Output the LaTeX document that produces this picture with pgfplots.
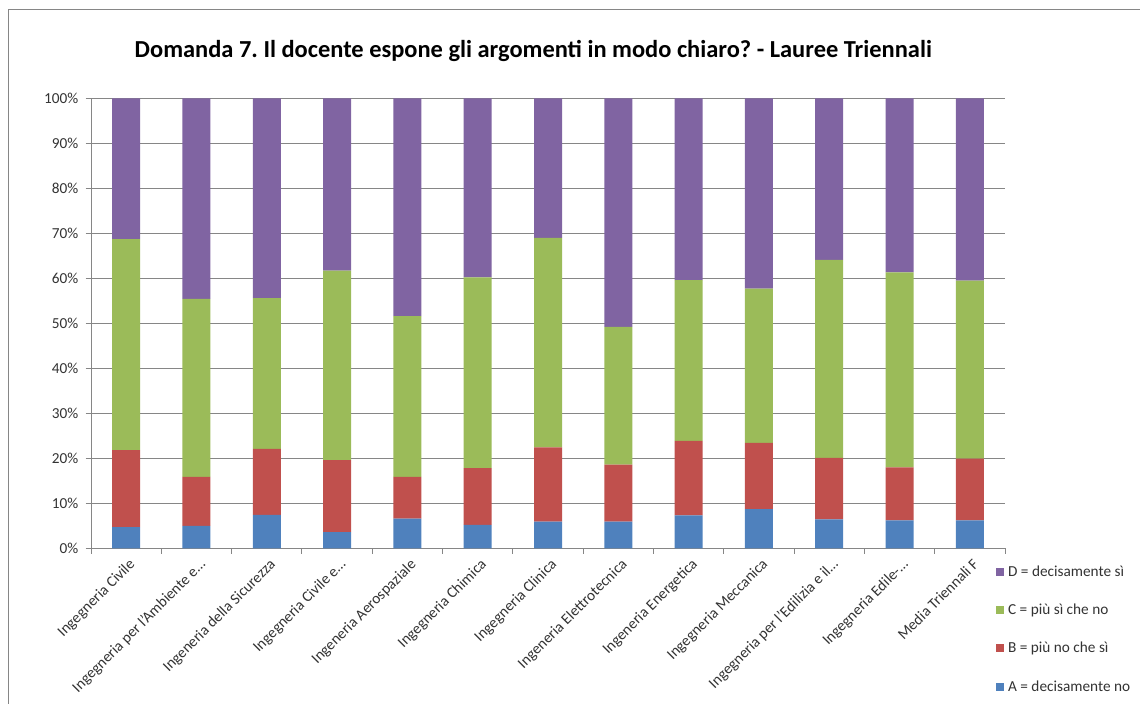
\documentclass[border=0pt]{standalone}
\usepackage{pgfplots}
\usepackage{pgfplotstable}
\pgfplotsset{compat=1.18}
\usepackage{fontspec}
\setmainfont{Carlito}
\frenchspacing

\definecolor{serA}{HTML}{4F81BD}
\definecolor{serB}{HTML}{C0504D}
\definecolor{serC}{HTML}{9BBB59}
\definecolor{serD}{HTML}{8064A2}
\definecolor{gridgray}{HTML}{868686}

% percentages per corso di laurea: A B C D
\pgfplotstableread{
idx A    B     C     D
0   4.7  17.1  46.9  31.3
1   5.0  10.85 39.55 44.6
2   7.4  14.7  33.5  44.4
3   3.6  16.0  42.1  38.3
4   6.6  9.25  35.75 48.4
5   5.2  12.6  42.4  39.8
6   5.9  16.5  46.6  31.0
7   5.9  12.7  30.6  50.8
8   7.3  16.55 35.75 40.4
9   8.7  14.7  34.3  42.3
10  6.4  13.7  44.0  35.9
11  6.2  11.8  43.3  38.7
12  6.2  13.7  39.6  40.5
}\datatable

\begin{document}
\begin{tikzpicture}
\path[use as bounding box] (0bp,0bp) rectangle (855bp,528bp);
\draw[gridgray, line width=0.75bp] (6bp,0bp) -- (6bp,520.5bp) -- (855bp,520.5bp);
\node[font=\bfseries\fontsize{18.4}{22}\selectfont, anchor=base] at (400bp,485bp)
  {Domanda 7. Il docente espone gli argomenti in modo chiaro? - Lauree Triennali};

\begin{axis}[
  at={(68.25bp,116.8bp)}, anchor=south west,
  scale only axis, width=685.5bp, height=337.5bp,
  ybar stacked, bar width=21bp,
  xmin=-0.5, xmax=12.5, ymin=0, ymax=100,
  axis x line*=bottom, axis y line*=left,
  axis line style={gridgray, line width=0.75bp},
  ytick={0,10,...,100},
  yticklabel={\pgfmathprintnumber{\tick}\%},
  ymajorgrids, grid style={gridgray, line width=0.75bp},
  xtick={0,...,12},
  minor xtick={-0.5,0.5,...,12.5},
  major x tick style={draw=none},
  tick align=outside,
  major tick length=4bp, minor tick length=4bp,
  tick style={gridgray, line width=0.75bp},
  xticklabels={
    Ingegneria Civile,
    Ingegneria per l'Ambiente e…,
    Ingeneria della Sicurezza,
    Ingegneria Civile e…,
    Ingeneria Aerospaziale,
    Ingegneria Chimica,
    Ingegneria Clinica,
    Ingeneria Elettrotecnica,
    Ingeneria Energetica,
    Ingegneria Meccanica,
    Ingegneria per l'Edilizia e il…,
    Ingegneria Edile-…,
    Media Triennali F},
  x tick label style={rotate=45, anchor=north east, inner sep=1bp, yshift=-2bp},
  y tick label style={xshift=-2bp},
  tick label style={font=\fontsize{11.5}{13}\selectfont, text=black!80},
  /pgf/number format/assume math mode=true,
  legend style={draw=none, at={(axis description cs:0.99,-0.035)}, anchor=north west,
    font=\fontsize{11.5}{13}\selectfont, text=black!80, row sep=17.25bp, inner sep=0pt,
    nodes={inner xsep=3bp, inner ysep=1bp}},
  legend cell align=left,
  reverse legend,
  legend image code/.code={\fill[#1] (0bp,-3bp) rectangle (6bp,3bp);},
]
\addplot[fill=serA, draw=none] table[x=idx, y=A] {\datatable};
\addlegendentry{A = decisamente no}
\addplot[fill=serB, draw=none] table[x=idx, y=B] {\datatable};
\addlegendentry{B = più no che sì}
\addplot[fill=serC, draw=none] table[x=idx, y=C] {\datatable};
\addlegendentry{C = più sì che no}
\addplot[fill=serD, draw=none] table[x=idx, y=D] {\datatable};
\addlegendentry{D = decisamente sì}
\end{axis}
\end{tikzpicture}
\end{document}
